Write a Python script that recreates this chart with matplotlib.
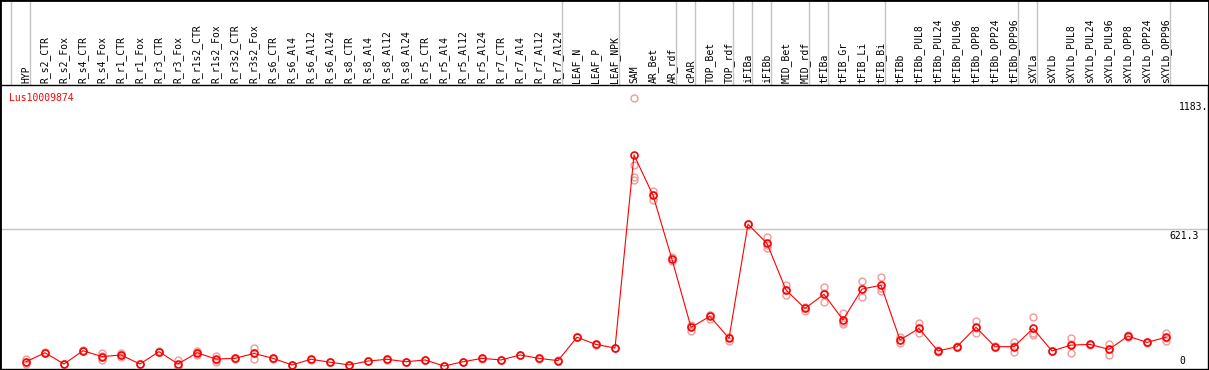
import matplotlib
matplotlib.use("Agg")
import matplotlib.pyplot as plt
from matplotlib.lines import Line2D
from matplotlib.patches import Rectangle
from matplotlib.transforms import blended_transform_factory

# samples along the x axis
samples = ['HYP', 'R_s2_CTR', 'R_s2_Fox', 'R_s4_CTR', 'R_s4_Fox', 'R_r1_CTR', 'R_r1_Fox',
           'R_r3_CTR', 'R_r3_Fox', 'R_r1s2_CTR', 'R_r1s2_Fox', 'R_r3s2_CTR', 'R_r3s2_Fox',
           'R_s6_CTR', 'R_s6_Al4', 'R_s6_Al12', 'R_s6_Al24', 'R_s8_CTR', 'R_s8_Al4',
           'R_s8_Al12', 'R_s8_Al24', 'R_r5_CTR', 'R_r5_Al4', 'R_r5_Al12', 'R_r5_Al24',
           'R_r7_CTR', 'R_r7_Al4', 'R_r7_Al12', 'R_r7_Al24', 'LEAF_N', 'LEAF_P', 'LEAF_NPK',
           'SAM', 'AR_Bet', 'AR_rdf', 'cPAR', 'TOP_Bet', 'TOP_rdf', 'iFIBa', 'iFIBb',
           'MID_Bet', 'MID_rdf', 'tFIBa', 'tFIB_Gr', 'tFIB_Li', 'tFIB_Bi', 'tFIBb',
           'tFIBb_PUL8', 'tFIBb_PUL24', 'tFIBb_PUL96', 'tFIBb_OPP8', 'tFIBb_OPP24',
           'tFIBb_OPP96', 'sXYLa', 'sXYLb', 'sXYLb_PUL8', 'sXYLb_PUL24', 'sXYLb_PUL96',
           'sXYLb_OPP8', 'sXYLb_OPP24', 'sXYLb_OPP96']

# mean expression per sample
means = [30, 70, 20, 79, 53, 60, 20, 75, 20, 70, 42, 45, 67,
         45, 16, 41, 28, 16, 33, 41, 30, 38, 11, 30, 45, 38, 60, 45, 35,
         139, 107, 91, 949, 770, 485, 183, 232, 134, 641, 556, 349, 267,
         330, 216, 353, 370, 127, 178, 78, 97, 183, 97, 97, 178,
         78, 104, 107, 85, 144, 116, 139]

# replicate values per sample
replicates = [[41, 20, 30], [72, 68], [18, 22], [82, 76], [67, 38, 55], [70, 50, 60],
              [20, 21], [78, 72], [38, 11, 12], [78, 58, 72], [57, 30, 40], [47, 43],
              [90, 41, 70], [46, 44], [17, 15], [42, 40], [29, 27], [17, 15], [34, 32],
              [42, 40], [31, 29], [39, 37], [12, 10], [31, 29], [46, 44], [39, 37],
              [61, 59], [46, 44], [36, 34], [140, 138], [108, 106], [92, 90],
              [1201, 903, 852, 838], [789, 749, 772], [497, 479], [193, 168, 188],
              [238, 219, 236], [141, 122], [641, 641], [586, 534, 550], [373, 327, 350],
              [257, 272, 270], [362, 294, 334], [245, 196, 205], [389, 316, 355],
              [408, 346, 356], [141, 112, 128], [201, 156, 178], [82, 73], [98, 96],
              [213, 156, 180], [98, 96], [116, 75, 100], [227, 149, 158], [79, 77],
              [134, 67, 111], [108, 106], [109, 60, 86], [150, 138], [117, 115],
              [159, 122, 136]]

# index of last sample in each group (separator drawn after it)
group_ends = [-1, 0, 28, 31, 34, 35, 37, 38, 39, 41, 42, 45, 52, 53, 60]

gene = 'Lus10009874'
ytick_vals = [1183, 621.3, 0]
ytick_labels = ['1183.', '621.3', '0']

W, H = 1209, 370
fig = plt.figure(figsize=(W / 100, H / 100), dpi=100)
ax = fig.add_axes([0, 1 / H, 1208 / W, 284 / H])

ax.set_xlim(-26 / 19, (1208 - 26) / 19)
ax.set_ylim(-2.2, 1260)
ax.set_xticks([])
ax.set_yticks([])
for s in ax.spines.values():
    s.set_color('black')
    s.set_linewidth(1)

grey = '#c4c4c4'
# horizontal grid at middle value
ax.axhline(ytick_vals[1], color=grey, lw=1, zorder=0)

# vertical separators run through the label area as well
vtrans = blended_transform_factory(ax.transData, fig.transFigure)
for e in group_ends:
    fig.add_artist(Line2D([e + 4 / 19, e + 4 / 19], [0, 1], transform=vtrans,
                          color=grey, lw=1, zorder=0))

# replicates
for i, reps in enumerate(replicates):
    ax.plot([i] * len(reps), reps, 'o', ms=5, mfc='none', mec='#f09a9a', mew=1.0,
            zorder=2, clip_on=False)

# means
x = list(range(len(samples)))
ax.plot(x, means, '-', color='red', lw=0.8, zorder=3)
ax.plot(x, means, 'o', ms=5, mfc='none', mec='red', mew=1.2, zorder=4)

# sample labels above the plot
ltrans = blended_transform_factory(ax.transData, fig.transFigure)
for i, name in enumerate(samples):
    ax.text(i, (H - 83) / H, name, rotation=90, ha='center', va='bottom',
            family='DejaVu Sans Mono', fontsize=7, transform=ltrans, clip_on=False)

# y value labels on the right
rtrans = blended_transform_factory(fig.transFigure, ax.transData)
ax.text(1179 / W, ytick_vals[0], ytick_labels[0], ha='left', va='top',
        family='DejaVu Sans Mono', fontsize=7, transform=rtrans)
ax.text(1169 / W, ytick_vals[1] - 8, ytick_labels[1], ha='left', va='top',
        family='DejaVu Sans Mono', fontsize=7, transform=rtrans)
ax.text(1179 / W, ytick_vals[2] + 12, ytick_labels[2], ha='left', va='bottom',
        family='DejaVu Sans Mono', fontsize=7, transform=rtrans)

ax.text(9 / 1208, 1 - 8 / 284, gene, color='red', ha='left', va='top',
        family='DejaVu Sans Mono', fontsize=7, transform=ax.transAxes)

# outer frame
fig.add_artist(Rectangle((0, 0), 1, 1, transform=fig.transFigure, fill=False,
                         ec='black', lw=2, zorder=10))

fig.savefig('out.png', dpi=100)
